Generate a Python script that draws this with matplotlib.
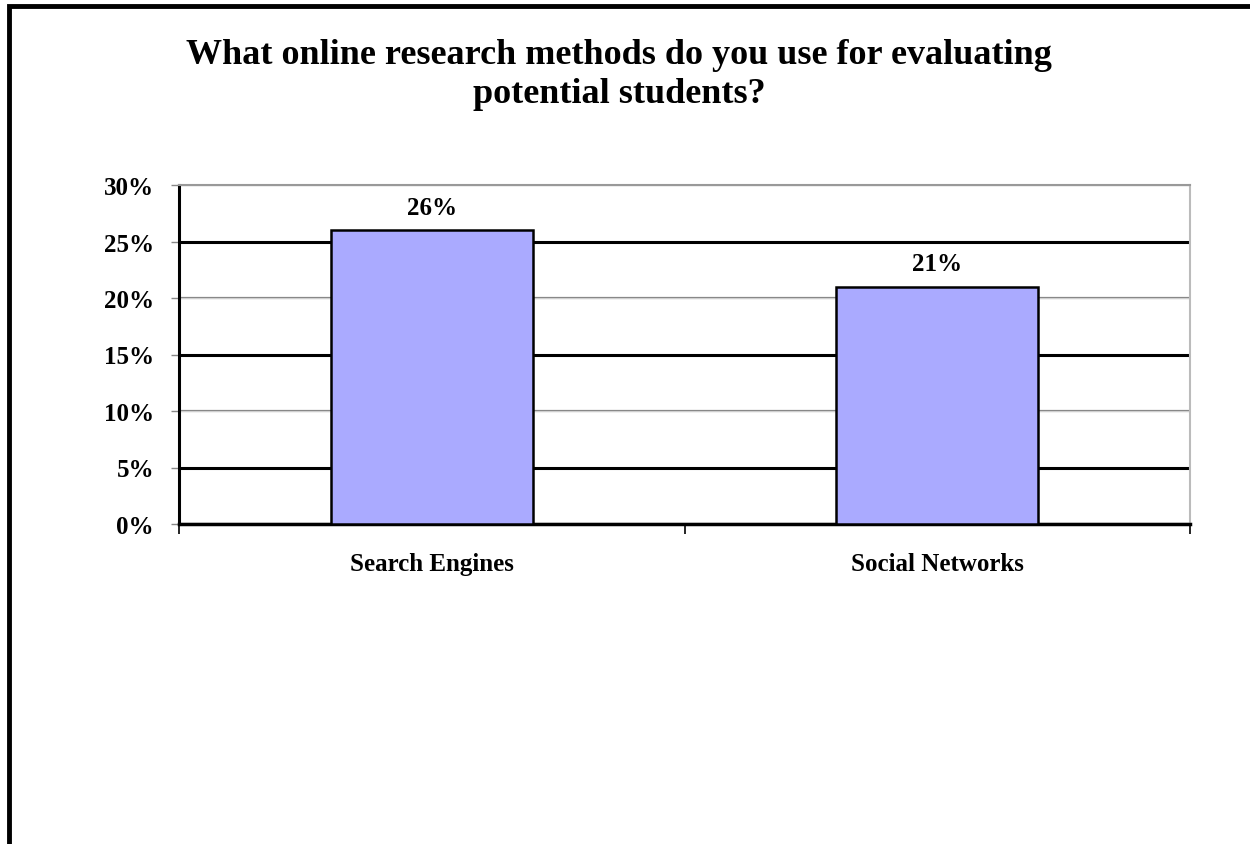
import matplotlib
matplotlib.use("Agg")
from matplotlib import pyplot as plt
from matplotlib.patches import Rectangle

categories = ["Search Engines", "Social Networks"]
values = [26, 21]
y_ticks = [0, 5, 10, 15, 20, 25, 30]
title = "What online research methods do you use for evaluating\npotential students?"

plt.rcParams['font.family'] = ['Liberation Serif', 'DejaVu Serif']

W, H = 1250, 845
fig = plt.figure(figsize=(W / 100, H / 100), dpi=100)
fig.patch.set_facecolor("white")

# outer frame, cut off at right and bottom like the reference
fig.patches.append(Rectangle((9 / W, -0.1), 1.2, 1.1 - 7 / H,
                             transform=fig.transFigure, fill=False,
                             edgecolor="black", linewidth=3.5, zorder=10))

ax = fig.add_axes([179 / W, 1 - 525 / H, (1190 - 179) / W, (525 - 186) / H])

x = list(range(len(categories)))
ax.bar(x, values, width=0.4, color="#AAAAFF", edgecolor="black",
       linewidth=1.8, zorder=3)
for xi, v in zip(x, values):
    ax.text(xi, v + 1.0, "%d%%" % v, ha="center", va="bottom",
            fontsize=18, fontweight="bold")

ax.set_xlim(-0.5, len(categories) - 0.5)
ax.set_ylim(0, 30)

# gridlines: alternating heavy black and light gray
for t in y_ticks:
    if t in (5, 15, 25):
        ax.axhline(t, color="black", linewidth=2.2, zorder=1)
    else:
        ax.axhline(t, color="#888888", linewidth=1.6, zorder=1)
        ax.axhline(t, color="#dddddd", linewidth=0.6, zorder=1)

ax.set_yticks(y_ticks)
ax.set_yticklabels(["%d%%" % t for t in y_ticks], fontsize=18, fontweight="bold")
ax.set_xticks([-0.5, 0.5, 1.5], minor=False)
ax.set_xticklabels([])
ax.set_xticks(x, minor=True)
ax.set_xticklabels(categories, minor=True, fontsize=18, fontweight="bold")
ax.tick_params(axis="x", which="minor", length=0, pad=20)
ax.tick_params(axis="x", which="major", length=7, width=1.2, direction="out")
ax.tick_params(axis="y", length=6, width=1, pad=12, color="#888888")

ax.spines["left"].set_linewidth(2.2)
ax.spines["bottom"].set_linewidth(2.5)
ax.spines["top"].set_color("#999999")
ax.spines["right"].set_color("#bbbbbb")
ax.spines["top"].set_linewidth(1.5)
ax.spines["right"].set_linewidth(1.5)

fig.text(619 / W, 1 - 75 / H, title, ha="center", va="center",
         fontsize=26, fontweight="bold", linespacing=1.22)

fig.savefig("out.png", dpi=100)
